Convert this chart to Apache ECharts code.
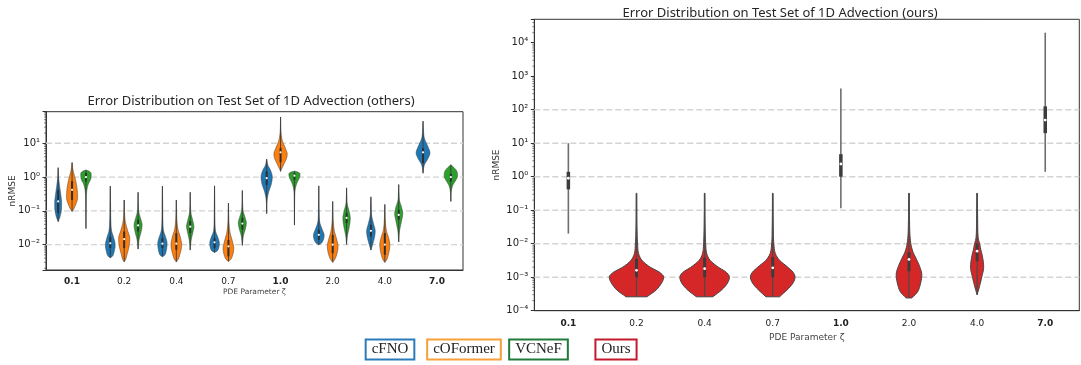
<!DOCTYPE html>
<html><head><meta charset="utf-8">
<script src="https://cdn.jsdelivr.net/npm/echarts@6/dist/echarts.min.js"></script>
<style>html,body{margin:0;padding:0;background:#fff}#c{width:1081px;height:365px}</style>
</head><body><div id="c"></div>
<script>
// ---------- categories / ticks ----------
const categories = ['0.1','0.2','0.4','0.7','1.0','2.0','4.0','7.0'];
const boldCategories = ['0.1','1.0','7.0'];
const gridLinesLeft = [0.01, 0.1, 1, 10];
const gridLinesRight = [0.001, 0.01, 0.1, 1, 10, 100];
const leftTitle = 'Error Distribution on Test Set of 1D Advection (others)';
const rightTitle = 'Error Distribution on Test Set of 1D Advection (ours)';
const xName = 'PDE Parameter ζ';
const yName = 'nRMSE';
const legendNames = ['cFNO','cOFormer','VCNeF','Ours'];

// ---------- cFNO ----------
const cfnoMin    = [0.048, 0.0041, 0.0044, 0.0059, 0.083, 0.01, 0.0069, 1.3];
const cfnoQ1     = [0.085, 0.008, 0.008, 0.0079, 0.59, 0.0138, 0.0174, 2.6];
const cfnoMedian = [0.19, 0.011, 0.0107, 0.0117, 0.93, 0.0195, 0.0257, 5.4];
const cfnoQ3     = [0.42, 0.017, 0.0158, 0.0155, 1.48, 0.0275, 0.039, 7.2];
const cfnoMax    = [1.9, 0.54, 0.54, 0.55, 3.4, 0.55, 0.26, 45];
const cfnoShape = [
  [[0.048,0],[0.065,0.25],[0.1,0.45],[0.17,0.5],[0.3,0.38],[0.6,0.18],[1.0,0.06],[1.9,0]],
  [[0.0041,0],[0.0045,0.3],[0.0056,0.5],[0.01,0.7],[0.0158,0.5],[0.025,0.2],[0.05,0.08],[0.158,0.04],[0.54,0]],
  [[0.0044,0],[0.0048,0.3],[0.006,0.5],[0.011,0.67],[0.017,0.45],[0.025,0.18],[0.05,0.07],[0.158,0.04],[0.54,0]],
  [[0.0059,0],[0.0064,0.35],[0.0075,0.55],[0.011,0.69],[0.017,0.45],[0.025,0.15],[0.05,0.06],[0.158,0.03],[0.55,0]],
  [[0.083,0],[0.2,0.06],[0.37,0.3],[0.6,0.65],[1.0,0.81],[1.6,0.55],[2.2,0.2],[3.4,0]],
  [[0.01,0],[0.011,0.35],[0.013,0.6],[0.019,0.77],[0.028,0.5],[0.045,0.15],[0.1,0.05],[0.55,0]],
  [[0.0069,0],[0.011,0.3],[0.018,0.55],[0.025,0.62],[0.04,0.4],[0.07,0.12],[0.15,0.04],[0.26,0]],
  [[1.3,0],[2.3,0.2],[3.5,0.7],[5.2,1.0],[8,0.7],[14,0.2],[25,0.06],[45,0]]
];

// ---------- cOFormer ----------
const coformerMin    = [0.096, 0.0031, 0.0031, 0.0032, 1.48, 0.003, 0.003, null];
const coformerQ1     = [0.21, 0.0079, 0.0071, 0.0045, 2.75, 0.0056, 0.005, null];
const coformerMedian = [0.42, 0.0145, 0.0107, 0.0089, 5.4, 0.01, 0.01, null];
const coformerQ3     = [0.76, 0.0245, 0.022, 0.0138, 7.2, 0.0195, 0.022, null];
const coformerMax    = [2.7, 0.21, 0.21, 0.17, 60, 0.19, 0.155, null];
const coformerShape = [
  [[0.096,0],[0.11,0.2],[0.14,0.45],[0.25,0.8],[0.5,0.7],[1.0,0.4],[1.58,0.15],[2.7,0]],
  [[0.0031,0],[0.0036,0.2],[0.005,0.4],[0.0089,0.7],[0.015,0.8],[0.028,0.45],[0.05,0.15],[0.1,0.05],[0.21,0]],
  [[0.0031,0],[0.0036,0.25],[0.005,0.5],[0.0098,0.77],[0.016,0.6],[0.028,0.25],[0.05,0.1],[0.1,0.04],[0.21,0]],
  [[0.0032,0],[0.0036,0.3],[0.0045,0.55],[0.0079,0.77],[0.013,0.55],[0.022,0.25],[0.04,0.1],[0.08,0.04],[0.17,0]],
  [[1.48,0],[2.24,0.4],[3.55,0.85],[4.8,0.96],[7.1,0.7],[11.2,0.3],[20,0.08],[60,0]],
  [[0.003,0],[0.0035,0.25],[0.0045,0.5],[0.0089,0.77],[0.015,0.55],[0.025,0.25],[0.05,0.08],[0.1,0.04],[0.19,0]],
  [[0.003,0],[0.0035,0.25],[0.0045,0.45],[0.0098,0.72],[0.016,0.55],[0.025,0.25],[0.05,0.08],[0.1,0.03],[0.155,0]],
  null
];

// ---------- VCNeF ----------
const vcnefMin    = [0.03, 0.0074, 0.0069, 0.0095, 0.038, 0.0102, 0.012, 0.19];
const vcnefQ1     = [0.74, 0.0245, 0.022, 0.028, 0.83, 0.044, 0.055, 0.74];
const vcnefMedian = [1.0, 0.037, 0.034, 0.042, 1.1, 0.062, 0.076, 1.0];
const vcnefQ3     = [1.32, 0.055, 0.05, 0.062, 1.3, 0.085, 0.107, 1.23];
const vcnefMax    = [1.62, 0.355, 0.355, 0.4, 1.5, 0.48, 0.6, 2.3];
const vcnefShape = [
  [[0.03,0],[0.158,0.03],[0.4,0.12],[0.63,0.35],[0.89,0.7],[1.26,0.75],[1.5,0.45],[1.62,0]],
  [[0.0074,0],[0.014,0.15],[0.025,0.45],[0.038,0.58],[0.056,0.4],[0.089,0.12],[0.158,0.04],[0.355,0]],
  [[0.0069,0],[0.014,0.15],[0.025,0.42],[0.034,0.53],[0.05,0.38],[0.083,0.12],[0.15,0.04],[0.355,0]],
  [[0.0095,0],[0.018,0.15],[0.03,0.45],[0.044,0.58],[0.063,0.4],[0.1,0.12],[0.18,0.04],[0.4,0]],
  [[0.038,0],[0.2,0.03],[0.45,0.12],[0.7,0.4],[1.0,0.75],[1.26,0.8],[1.42,0.45],[1.5,0]],
  [[0.0102,0],[0.018,0.12],[0.035,0.4],[0.06,0.53],[0.1,0.35],[0.16,0.1],[0.25,0.04],[0.48,0]],
  [[0.012,0],[0.025,0.12],[0.05,0.4],[0.083,0.58],[0.13,0.4],[0.2,0.12],[0.35,0.04],[0.6,0]],
  [[0.19,0],[0.35,0.05],[0.58,0.3],[0.8,0.7],[1.07,0.96],[1.5,0.85],[2.0,0.35],[2.3,0]]
];

// ---------- Ours ----------
const oursMin    = [0.02, 2.6e-4, 2.6e-4, 2.6e-4, 0.115, 2.4e-4, 3e-4, 1.4];
const oursQ1     = [0.42, 1e-3, 1e-3, 1e-3, 1.0, 1.5e-3, 3e-3, 20];
const oursMedian = [0.9, 1.6e-3, 1.8e-3, 1.9e-3, 2.4, 3.4e-3, 6e-3, 49];
const oursQ3     = [1.4, 3.5e-3, 3.8e-3, 4e-3, 4.7, 5.6e-3, 1e-2, 126];
const oursMax    = [10, 0.32, 0.32, 0.32, 430, 0.32, 0.32, 2e4];
const oursShape = [
  null,
  [[2.6e-4,0.38],[4e-4,0.7],[6.3e-4,0.9],[1e-3,1.0],[1.4e-3,0.85],[2e-3,0.5],[3.2e-3,0.2],[5e-3,0.08],[0.01,0.04],[0.03,0.02],[0.32,0.01]],
  [[2.6e-4,0.3],[4e-4,0.6],[6.3e-4,0.82],[1e-3,0.91],[1.4e-3,0.8],[2e-3,0.5],[3.2e-3,0.2],[5e-3,0.08],[0.01,0.04],[0.03,0.02],[0.32,0.01]],
  [[2.6e-4,0.25],[4e-4,0.5],[6.3e-4,0.72],[1e-3,0.82],[1.4e-3,0.75],[2e-3,0.55],[3.2e-3,0.25],[5e-3,0.1],[0.01,0.04],[0.03,0.02],[0.32,0.01]],
  null,
  [[2.4e-4,0.1],[3.5e-4,0.3],[6.3e-4,0.42],[1.2e-3,0.47],[2e-3,0.4],[3.5e-3,0.27],[5.6e-3,0.15],[8.9e-3,0.08],[0.016,0.04],[0.05,0.02],[0.32,0.01]],
  [[3e-4,0],[5e-4,0.08],[1e-3,0.17],[2e-3,0.24],[4e-3,0.2],[7e-3,0.13],[0.0095,0.1],[0.015,0.04],[0.05,0.02],[0.32,0.01]],
  null
];

// ---------- helpers ----------
const SUP = {'-':'⁻','0':'⁰','1':'¹','2':'²','3':'³','4':'⁴','5':'⁵','6':'⁶','7':'⁷','8':'⁸','9':'⁹'};
function powLabel(v) {
  const r = Math.round(v);
  if (Math.abs(v - r) > 1e-6) return '';
  return '10' + String(r).split('').map(c => SUP[c]).join('');
}
function sampleShape(knots, n) {
  const xs = knots.map(k => Math.log10(k[0])), ys = knots.map(k => k[1]);
  const m = xs.length, d = [], t = [];
  for (let k = 0; k < m - 1; k++) d.push((ys[k+1] - ys[k]) / (xs[k+1] - xs[k]));
  t[0] = d[0]; t[m-1] = d[m-2];
  for (let k = 1; k < m - 1; k++) t[k] = (d[k-1] * d[k] <= 0) ? 0 : (d[k-1] + d[k]) / 2;
  for (let k = 0; k < m - 1; k++) {
    if (d[k] === 0) { t[k] = 0; t[k+1] = 0; continue; }
    const a = t[k] / d[k], b = t[k+1] / d[k], s = a*a + b*b;
    if (s > 9) { const tau = 3 / Math.sqrt(s); t[k] = tau*a*d[k]; t[k+1] = tau*b*d[k]; }
  }
  const out = [];
  for (let j = 0; j <= n; j++) {
    const x = xs[0] + (xs[m-1] - xs[0]) * j / n;
    let k = 0; while (k < m - 2 && x > xs[k+1]) k++;
    const h = xs[k+1] - xs[k], s = (x - xs[k]) / h;
    const h00 = 2*s*s*s - 3*s*s + 1, h10 = s*s*s - 2*s*s + s, h01 = -2*s*s*s + 3*s*s, h11 = s*s*s - s*s;
    const y = h00*ys[k] + h10*h*t[k] + h01*ys[k+1] + h11*h*t[k+1];
    out.push([x, Math.max(0, y)]);
  }
  return out;
}

const models = [
  {name:'cFNO', grid:0, color:'#1f77b4', offset:-0.8/3, widthFrac:0.8/3, min:cfnoMin, q1:cfnoQ1, med:cfnoMedian, q3:cfnoQ3, max:cfnoMax, shape:cfnoShape,
   edge:'#3a3a3a', edgeW:0.5, whisker:'#3a3a3a', whiskerW:0.9, box:'#2f2f2f', boxW:2, dotR:1.1},
  {name:'cOFormer', grid:0, color:'#ff7f0e', offset:0, widthFrac:0.8/3, min:coformerMin, q1:coformerQ1, med:coformerMedian, q3:coformerQ3, max:coformerMax, shape:coformerShape,
   edge:'#3a3a3a', edgeW:0.5, whisker:'#3a3a3a', whiskerW:0.9, box:'#2f2f2f', boxW:2, dotR:1.1},
  {name:'VCNeF', grid:0, color:'#2ca02c', offset:0.8/3, widthFrac:0.8/3, min:vcnefMin, q1:vcnefQ1, med:vcnefMedian, q3:vcnefQ3, max:vcnefMax, shape:vcnefShape,
   edge:'#3a3a3a', edgeW:0.5, whisker:'#3a3a3a', whiskerW:0.9, box:'#2f2f2f', boxW:2, dotR:1.1},
  {name:'Ours', grid:1, color:'#d62728', offset:0, widthFrac:0.8, min:oursMin, q1:oursQ1, med:oursMedian, q3:oursQ3, max:oursMax, shape:oursShape,
   edge:'#444444', edgeW:1, whisker:'#4a4a4a', whiskerW:1.2, box:'#3c3c3c', boxW:3, dotR:1.4}
];

function violinRender(m) {
  return function (params, api) {
    const i = api.value(0);
    const band = api.size([1, 0])[0];
    const cx = api.coord([i, 0])[0] + m.offset * band;
    const maxHalf = band * m.widthFrac / 2;
    const Y = v => api.coord([i, Math.log10(v)])[1];
    const children = [];
    const shape = m.shape[i];
    let whiskerColor = m.whisker, whiskerW = m.whiskerW, boxW = m.boxW;
    if (shape) {
      const s = sampleShape(shape, 60);
      const right = s.map(p => [cx + p[1] * maxHalf, api.coord([i, p[0]])[1]]);
      const left = s.slice().reverse().map(p => [cx - p[1] * maxHalf, api.coord([i, p[0]])[1]]);
      children.push({type:'polygon', shape:{points: right.concat(left)},
        style:{fill: m.color, stroke: m.edge, lineWidth: m.edgeW}});
    } else {
      whiskerColor = '#6e6e6e'; whiskerW = 1.6; boxW = 3.5;
    }
    children.push({type:'line', shape:{x1:cx, y1:Y(m.min[i]), x2:cx, y2:Y(m.max[i])},
      style:{stroke: whiskerColor, lineWidth: whiskerW}});
    children.push({type:'line', shape:{x1:cx, y1:Y(m.q1[i]), x2:cx, y2:Y(m.q3[i])},
      style:{stroke: m.box, lineWidth: boxW}});
    children.push({type:'circle', shape:{cx:cx, cy:Y(m.med[i]), r:m.dotR}, style:{fill:'#ffffff'}});
    return {type:'group', children};
  };
}

function gridLineRender(params, api) {
  const y = api.coord([0, api.value(1)])[1];
  const cs = params.coordSys;
  return {type:'line', shape:{x1:cs.x, y1:y, x2:cs.x + cs.width, y2:y},
    style:{stroke:'#d4d4d4', lineWidth:1.4, lineDash:[6,3]}};
}
function minorTickRender(params, api) {
  const y = api.coord([0, api.value(1)])[1];
  const cs = params.coordSys;
  return {type:'line', shape:{x1:cs.x - 2, y1:y, x2:cs.x, y2:y}, style:{stroke:'#333', lineWidth:0.6}};
}
function minorTicks(lo, hi) {
  const out = [];
  for (let e = Math.floor(lo); e <= Math.ceil(hi); e++)
    for (let k = 2; k <= 9; k++) { const v = e + Math.log10(k); if (v > lo && v < hi) out.push([0, v]); }
  return out;
}

const yRange = [[-2.75, 1.935], [-4, 4.7]];
const catFmt = v => boldCategories.includes(v) ? '{b|' + v + '}' : v;

function xAxisCfg(gi, labelMargin, nameGap, nameSize) {
  return {
    gridIndex: gi, type:'category', data: categories, boundaryGap: true,
    axisLine:{onZero:false, lineStyle:{color:'#333', width:1}},
    axisTick:{alignWithLabel:true, length:3.5, lineStyle:{color:'#333'}},
    axisLabel:{margin: labelMargin, fontSize:9, color:'#222', fontFamily:'DejaVu Sans', formatter: catFmt,
      rich:{b:{fontWeight:'bold', fontSize:9, color:'#222', fontFamily:'DejaVu Sans'}}},
    name: xName, nameLocation:'middle', nameGap: nameGap, nameMoveOverlap: false,
    nameTextStyle:{fontSize: nameSize, color:'#444', fontFamily:'DejaVu Sans'},
    splitLine:{show:false}
  };
}
function yAxisCfg(gi, nameGap) {
  return {
    gridIndex: gi, type:'value', min: yRange[gi][0], max: yRange[gi][1], minInterval:1, maxInterval:1,
    axisLine:{show:true, onZero:false, lineStyle:{color:'#333', width:1}},
    axisTick:{show:true, length:3.5, lineStyle:{color:'#333'}},
    axisLabel:{margin:6, fontSize:10, color:'#222', fontFamily:'DejaVu Sans', formatter: powLabel},
    splitLine:{show:false},
    name: yName, nameLocation:'middle', nameGap: nameGap, nameRotate: 90, nameMoveOverlap: false,
    nameTextStyle:{fontSize:9, color:'#333', fontFamily:'DejaVu Sans'}
  };
}

const series = [];
[gridLinesLeft, gridLinesRight].forEach((gl, gi) => {
  series.push({type:'custom', xAxisIndex:gi, yAxisIndex:gi, z:1, silent:true,
    data: gl.map(v => [0, Math.log10(v)]), renderItem: gridLineRender});
  series.push({type:'custom', xAxisIndex:gi, yAxisIndex:gi, z:1, silent:true, clip:false,
    data: minorTicks(yRange[gi][0], yRange[gi][1]), renderItem: minorTickRender});
});
models.forEach(m => {
  const data = [];
  categories.forEach((c, i) => { if (m.med[i] != null) data.push([i, Math.log10(m.med[i])]); });
  series.push({name: m.name, type:'custom', xAxisIndex:m.grid, yAxisIndex:m.grid, z:3,
    data, encode:{x:0, y:1}, renderItem: violinRender(m)});
});

const legendColors = ['#2b7bba', '#f5a03a', '#1f7a3b', '#c41a2d'];
const legendCenters = [390, 464, 538.5, 616];
const graphics = legendNames.map((n, k) => ({
  type:'text', x: legendCenters[k], y: 349.5, z: 10,
  style:{text:n, fill:'#222', font:'15px "Liberation Serif"', align:'center', verticalAlign:'middle',
    padding:[2,5,1,5], borderColor: legendColors[k], borderWidth: 2, backgroundColor:'#fff'}
}));

const chart = echarts.init(document.getElementById('c'), null, {renderer:'canvas'});
chart.setOption({
  animation: false,
  backgroundColor: '#ffffff',
  title: [
    {text: leftTitle, left: 246, top: 90, textAlign:'center',
     textStyle:{fontSize:13, fontWeight:'normal', color:'#262626', fontFamily:'Noto Sans'}},
    {text: rightTitle, left: 775, top: 2, textAlign:'center',
     textStyle:{fontSize:13, fontWeight:'normal', color:'#262626', fontFamily:'Noto Sans'}}
  ],
  grid: [
    {left:46, top:111.7, width:417, height:158.3, show:true, borderColor:'#333', borderWidth:1},
    {left:534.3, top:19.3, width:545, height:291.4, show:true, borderColor:'#333', borderWidth:1}
  ],
  xAxis: [xAxisCfg(0, 7, 18, 7.5), xAxisCfg(1, 8, 22.5, 9)],
  yAxis: [yAxisCfg(0, 29), yAxisCfg(1, 33)],
  series,
  graphic: graphics
});
</script></body></html>
